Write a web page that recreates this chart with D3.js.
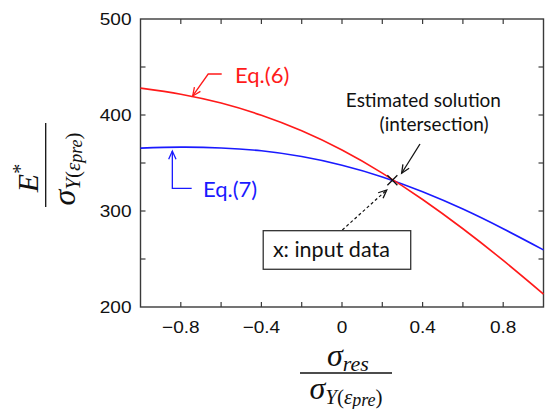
<!DOCTYPE html>
<html>
<head>
<meta charset="utf-8">
<script src="https://cdn.jsdelivr.net/npm/d3@7"></script>
<style>
  html, body { margin: 0; padding: 0; background: #fff; }
  svg { display: block; }
</style>
</head>
<body>
<svg id="chart" width="546" height="409"></svg>
<script>
// Normalised residual stress (x) and the two curves E*/σY evaluated on it
const stressRatio = [-1, -0.8, -0.6, -0.4, -0.2, 0, 0.2, 0.4, 0.6, 0.8, 1];
const eq6Values   = [428, 421.7, 412.4, 399.7, 383.5, 363.5, 339.5, 312, 281.5, 248.5, 213.5];
const eq7Values   = [365.5, 366.5, 365.7, 362.7, 356.7, 347.7, 335.5, 320, 302, 281.5, 259.5];

// Intersection of the two curves (estimated solution)
const solutionX = [0.25];
const solutionY = [332];

// Axis ticks
const xTicks = [-0.8, -0.6, -0.4, -0.2, 0, 0.2, 0.4, 0.6, 0.8];
const xTickLabels = ["\u22120.8", "\u22120.4", "0", "0.4", "0.8"];
const xLabelled = [-0.8, -0.4, 0, 0.4, 0.8];
const yTicks = [250, 300, 350, 400, 450];
const yLabelled = [200, 300, 400, 500];

const svg = d3.select("#chart");
const plotL = 140.5, plotR = 543.5, plotT = 19, plotB = 307;
const x = d3.scaleLinear().domain([-1, 1]).range([plotL, plotR]);
const y = d3.scaleLinear().domain([200, 500]).range([plotB, plotT]);

const frameColor = "#3a3a3a";
const sans = "'Liberation Sans', Arial, sans-serif";
const humanist = "Lato, 'Open Sans', sans-serif";
const serif = "'Liberation Serif', 'Times New Roman', serif";

// Plot frame
svg.append("rect")
  .attr("x", plotL).attr("y", plotT)
  .attr("width", plotR - plotL).attr("height", plotB - plotT)
  .attr("fill", "none").attr("stroke", frameColor).attr("stroke-width", 1.4);

// Inward ticks on all four sides
const tickLen = 5;
const ticks = svg.append("g").attr("stroke", frameColor).attr("stroke-width", 1.2);
xTicks.forEach(v => {
  ticks.append("line").attr("x1", x(v)).attr("x2", x(v)).attr("y1", plotB).attr("y2", plotB - tickLen);
  ticks.append("line").attr("x1", x(v)).attr("x2", x(v)).attr("y1", plotT).attr("y2", plotT + tickLen);
});
yTicks.forEach(v => {
  ticks.append("line").attr("y1", y(v)).attr("y2", y(v)).attr("x1", plotL).attr("x2", plotL + tickLen);
  ticks.append("line").attr("y1", y(v)).attr("y2", y(v)).attr("x1", plotR).attr("x2", plotR - tickLen);
});

// Tick labels
xLabelled.forEach((v, i) => {
  svg.append("text")
    .attr("transform", `translate(${x(v)},${plotB + 26}) scale(1.12,1)`)
    .attr("text-anchor", "middle")
    .attr("font-family", sans).attr("font-size", 17).attr("fill", "#111")
    .text(xTickLabels[i]);
});
yLabelled.forEach(v => {
  svg.append("text")
    .attr("transform", `translate(${plotL - 9},${y(v) + 6}) scale(1.12,1)`)
    .attr("text-anchor", "end")
    .attr("font-family", sans).attr("font-size", 17).attr("fill", "#111")
    .text(v);
});

// Curves
const line = d3.line()
  .x((d, i) => x(stressRatio[i]))
  .y(d => y(d))
  .curve(d3.curveNatural);

svg.append("path").datum(eq7Values)
  .attr("d", line).attr("fill", "none")
  .attr("stroke", "#1a1aff").attr("stroke-width", 1.6);
svg.append("path").datum(eq6Values)
  .attr("d", line).attr("fill", "none")
  .attr("stroke", "#ff1a1a").attr("stroke-width", 1.6);

// Open arrowhead helper: two short strokes at the tip, pointing from (fx,fy) to (tx,ty)
function arrowHead(g, fx, fy, tx, ty, color, len = 9, spread = 0.42) {
  const a = Math.atan2(ty - fy, tx - fx);
  const p1 = [tx - len * Math.cos(a - spread), ty - len * Math.sin(a - spread)];
  const p2 = [tx - len * Math.cos(a + spread), ty - len * Math.sin(a + spread)];
  g.append("path")
    .attr("d", `M${p1[0]},${p1[1]}L${tx},${ty}L${p2[0]},${p2[1]}`)
    .attr("fill", "none").attr("stroke", color).attr("stroke-width", 1.3);
}

const notes = svg.append("g");

// Eq.(6) label and leader
{
  const c = "#ff1a1a";
  const pts = [[-0.597, 442.7], [-0.664, 442.7], [-0.741, 419.8]].map(p => [x(p[0]), y(p[1])]);
  notes.append("path").attr("d", d3.line()(pts)).attr("fill", "none").attr("stroke", c).attr("stroke-width", 1.3);
  arrowHead(notes, pts[1][0], pts[1][1], pts[2][0], pts[2][1], c);
  notes.append("text").attr("x", x(-0.531)).attr("y", y(433.3))
    .attr("font-family", humanist).attr("font-size", 22).attr("fill", c).text("Eq.(6)");
}

// Eq.(7) label and leader
{
  const c = "#1a1aff";
  const pts = [[-0.746, 323.6], [-0.842, 323.6], [-0.842, 362.5]].map(p => [x(p[0]), y(p[1])]);
  notes.append("path").attr("d", d3.line()(pts)).attr("fill", "none").attr("stroke", c).attr("stroke-width", 1.3);
  arrowHead(notes, pts[1][0], pts[1][1], pts[2][0], pts[2][1], c);
  notes.append("text").attr("x", x(-0.690)).attr("y", y(314.6))
    .attr("font-family", humanist).attr("font-size", 22).attr("fill", c).text("Eq.(7)");
}

// Estimated solution marker
solutionX.forEach((sx, i) => {
  const cx = x(sx), cy = y(solutionY[i]), r = 5;
  notes.append("path")
    .attr("d", `M${cx - r},${cy - r}L${cx + r},${cy + r}M${cx - r},${cy + r}L${cx + r},${cy - r}`)
    .attr("stroke", "#111").attr("stroke-width", 1.3);
});

// "Estimated solution (intersection)" callout
{
  const c = "#111";
  const a = [x(0.387), y(369.8)], b = [x(0.296), y(339.3)];
  notes.append("line").attr("x1", a[0]).attr("y1", a[1]).attr("x2", b[0]).attr("y2", b[1])
    .attr("stroke", c).attr("stroke-width", 1.3);
  arrowHead(notes, a[0], a[1], b[0], b[1], c);
  notes.append("text").attr("x", x(0.404)).attr("y", y(408.3)).attr("text-anchor", "middle")
    .attr("font-family", humanist).attr("font-size", 19).attr("fill", c).text("Estimated solution");
  notes.append("text").attr("x", x(0.457)).attr("y", y(383)).attr("text-anchor", "middle")
    .attr("font-family", humanist).attr("font-size", 19).attr("fill", c).text("(intersection)");
}

// Input data box with dashed pointer
{
  const c = "#111";
  const a = [x(0.0015), y(280.2)], b = [x(0.222), y(321.9)];
  notes.append("line").attr("x1", a[0]).attr("y1", a[1]).attr("x2", b[0]).attr("y2", b[1])
    .attr("stroke", c).attr("stroke-width", 1.2).attr("stroke-dasharray", "3,2.5");
  arrowHead(notes, a[0], a[1], b[0], b[1], c);
  notes.append("rect")
    .attr("x", x(-0.391)).attr("y", y(279.5))
    .attr("width", x(0.341) - x(-0.391)).attr("height", y(239.3) - y(279.5))
    .attr("fill", "#fff").attr("stroke", "#333").attr("stroke-width", 1.3);
  notes.append("text").attr("x", x(-0.343)).attr("y", y(251.6))
    .attr("font-family", humanist).attr("font-size", 21.5).attr("fill", c).text("x: input data");
}

// Axis titles written as stacked fractions
function sigmaYPre(t, big, sub, subsub) {
  t.append("tspan").attr("font-size", big).text("\u03c3");
  t.append("tspan").attr("font-size", sub).attr("dy", 5).text("Y");
  t.append("tspan").attr("font-size", sub).attr("font-style", "normal").text("(");
  t.append("tspan").attr("font-size", sub).text("\u03b5");
  t.append("tspan").attr("font-size", subsub).attr("dy", 2).text("pre");
  t.append("tspan").attr("font-size", sub).attr("font-style", "normal").attr("dy", -2).text(")");
}

// x-axis title: σres / σY(εpre)
{
  const g = svg.append("g").attr("transform", "translate(346,373)")
    .attr("font-family", serif).attr("font-style", "italic").attr("fill", "#111");
  g.append("line").attr("x1", -46).attr("x2", 46).attr("stroke", "#111").attr("stroke-width", 1.3);
  const num = g.append("text").attr("x", 2).attr("y", -7).attr("text-anchor", "middle");
  num.append("tspan").attr("font-size", 32).text("\u03c3");
  num.append("tspan").attr("font-size", 22).attr("dy", 5).text("res");
  const den = g.append("text").attr("x", 0).attr("y", 26).attr("text-anchor", "middle");
  sigmaYPre(den, 32, 21, 18);
}

// y-axis title: E* / σY(εpre), rotated
{
  const g = svg.append("g").attr("transform", "translate(45.7,165) rotate(-90)")
    .attr("font-family", serif).attr("font-style", "italic").attr("fill", "#111");
  g.append("line").attr("x1", -42).attr("x2", 42).attr("stroke", "#111").attr("stroke-width", 1.3);
  const num = g.append("text").attr("x", -13).attr("y", -8).attr("text-anchor", "middle");
  num.append("tspan").attr("font-size", 30).text("E");
  num.append("tspan").attr("font-size", 20).attr("dy", -11).attr("font-style", "normal").text("*");
  const den = g.append("text").attr("x", -4).attr("y", 29).attr("text-anchor", "middle");
  sigmaYPre(den, 32, 21, 18);
}
</script>
</body>
</html>
